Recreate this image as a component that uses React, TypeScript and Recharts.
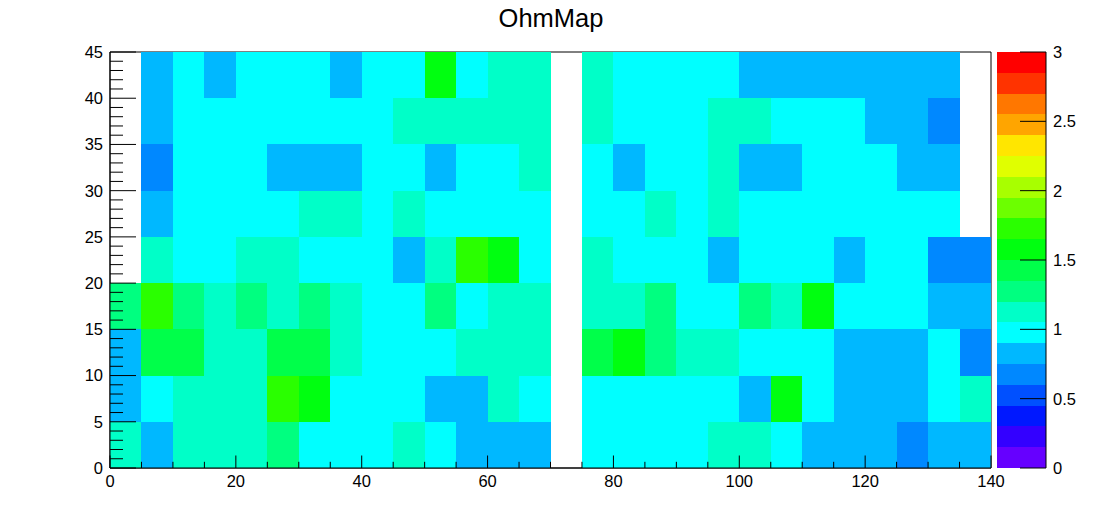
import type {ReactElement} from 'react';
import {ComposedChart, XAxis, YAxis, ReferenceArea} from 'recharts';

const FONT = '"Liberation Sans", Arial, Helvetica, sans-serif';

// histogram bin edges
const xBinEdges = [0, 5, 10, 15, 20, 25, 30, 35, 40, 45, 50, 55, 60, 65, 70, 75, 80, 85, 90, 95, 100, 105, 110, 115, 120, 125, 130, 135, 140];
const yBinEdges = [0, 5, 10, 15, 20, 25, 30, 35, 40, 45];

// bin contents, one array per y row (bottom row first); null = empty bin
const ohmRowY0 = [1.12, 0.82, 1.12, 1.12, 1.12, 1.28, 0.97, 0.97, 0.97, 1.12, 0.97, 0.82, 0.82, 0.82, null, 0.97, 0.97, 0.97, 0.97, 1.12, 1.12, 0.97, 0.82, 0.82, 0.82, 0.68, 0.82, 0.82];
const ohmRowY5 = [0.82, 0.97, 1.12, 1.12, 1.12, 1.72, 1.57, 0.97, 0.97, 0.97, 0.82, 0.82, 1.12, 0.97, null, 0.97, 0.97, 0.97, 0.97, 0.97, 0.82, 1.57, 0.97, 0.82, 0.82, 0.82, 0.97, 1.12];
const ohmRowY10 = [0.82, 1.42, 1.42, 1.12, 1.12, 1.42, 1.42, 1.12, 0.97, 0.97, 0.97, 1.12, 1.12, 1.12, null, 1.42, 1.57, 1.28, 1.12, 1.12, 0.97, 0.97, 0.97, 0.82, 0.82, 0.82, 0.97, 0.68];
const ohmRowY15 = [1.28, 1.72, 1.28, 1.12, 1.28, 1.12, 1.28, 1.12, 0.97, 0.97, 1.28, 0.97, 1.12, 1.12, null, 1.12, 1.12, 1.28, 0.97, 0.97, 1.28, 1.12, 1.57, 0.97, 0.97, 0.97, 0.82, 0.82];
const ohmRowY20 = [null, 1.12, 0.97, 0.97, 1.12, 1.12, 0.97, 0.97, 0.97, 0.82, 1.12, 1.72, 1.57, 0.97, null, 1.12, 0.97, 0.97, 0.97, 0.82, 0.97, 0.97, 0.97, 0.82, 0.97, 0.97, 0.68, 0.68];
const ohmRowY25 = [null, 0.82, 0.97, 0.97, 0.97, 0.97, 1.12, 1.12, 0.97, 1.12, 0.97, 0.97, 0.97, 0.97, null, 0.97, 0.97, 1.12, 0.97, 1.12, 0.97, 0.97, 0.97, 0.97, 0.97, 0.97, 0.97, null];
const ohmRowY30 = [null, 0.68, 0.97, 0.97, 0.97, 0.82, 0.82, 0.82, 0.97, 0.97, 0.82, 0.97, 0.97, 1.12, null, 0.97, 0.82, 0.97, 0.97, 1.12, 0.82, 0.82, 0.97, 0.97, 0.97, 0.82, 0.82, null];
const ohmRowY35 = [null, 0.82, 0.97, 0.97, 0.97, 0.97, 0.97, 0.97, 0.97, 1.12, 1.12, 1.12, 1.12, 1.12, null, 1.12, 0.97, 0.97, 0.97, 1.12, 1.12, 0.97, 0.97, 0.97, 0.82, 0.82, 0.68, null];
const ohmRowY40 = [null, 0.82, 0.97, 0.82, 0.97, 0.97, 0.97, 0.82, 0.97, 0.97, 1.57, 0.97, 1.12, 1.12, null, 1.12, 0.97, 0.97, 0.97, 0.97, 0.82, 0.82, 0.82, 0.82, 0.82, 0.82, 0.82, null];

const ohmRows = [ohmRowY0, ohmRowY5, ohmRowY10, ohmRowY15, ohmRowY20, ohmRowY25, ohmRowY30, ohmRowY35, ohmRowY40];

// 20 contour colours, lowest first
const paletteColors = [
	'#6600ff', '#3300ff', '#0018ff', '#0050ff', '#0088ff',
	'#00b8ff', '#00ffff', '#00ffc8', '#00ff80', '#00ff4a',
	'#00ff10', '#2aff00', '#6cff00', '#a8ff00', '#e0ff00',
	'#ffe600', '#ffa500', '#ff7700', '#ff3300', '#ff0000'
];
const zMin = 0;
const zMax = 3;

const xTicks = xBinEdges;
const yTicks = Array.from({length: 46}, (_, i) => i);
const zTicks = [0, 0.5, 1, 1.5, 2, 2.5, 3];

function colorFor(v: number): string {
	const step = (zMax - zMin) / paletteColors.length;
	const idx = Math.min(paletteColors.length - 1, Math.max(0, Math.floor((v - zMin) / step)));
	return paletteColors[idx];
}

type TCell = {x1: number; x2: number; y1: number; y2: number; value: number};

const cells: TCell[] = [];
ohmRows.forEach((row, j) => {
	row.forEach((value, i) => {
		if (value === null) {
			return;
		}
		cells.push({x1: xBinEdges[i], x2: xBinEdges[i + 1], y1: yBinEdges[j], y2: yBinEdges[j + 1], value});
	});
});

const labelStyle = {fontFamily: FONT, fontSize: 16.5, fill: '#000'};

function LeftTick(props: any): ReactElement {
	const {x, y, payload} = props;
	const major = payload.value % 5 === 0;
	return (
		<g>
			<line x1={x} x2={x + (major ? 26 : 13)} y1={y} y2={y} stroke={'#000'} strokeWidth={1} />
			{major && (
				<text x={x - 7} y={y} dy={'0.36em'} textAnchor={'end'} {...labelStyle}>
					{payload.value}
				</text>
			)}
		</g>
	);
}

function BottomTick(props: any): ReactElement {
	const {x, y, payload} = props;
	const major = payload.value % 20 === 0;
	return (
		<g>
			<line x1={x} x2={x} y1={y} y2={y - (major ? 12.5 : 6.2)} stroke={'#000'} strokeWidth={1} />
			{major && (
				<text x={x} y={y + 19} textAnchor={'middle'} {...labelStyle}>
					{payload.value}
				</text>
			)}
		</g>
	);
}

function PaletteTick(props: any): ReactElement {
	const {x, y, payload} = props;
	return (
		<g>
			<line x1={x - 26} x2={x} y1={y} y2={y} stroke={'#000'} strokeWidth={1} />
			<text x={x + 7} y={y} dy={'0.36em'} textAnchor={'start'} {...labelStyle}>
				{payload.value}
			</text>
		</g>
	);
}

function OhmMap(): ReactElement {
	return (
		<div style={{position: 'absolute', left: 0, top: 0, width: 1102, height: 522, background: '#fff'}}>
			<svg width={1102} height={40} style={{position: 'absolute', left: 0, top: 0}}>
				<text x={551} y={26.5} textAnchor={'middle'} fontFamily={FONT} fontSize={25.5} fill={'#000'}>
					{'OhmMap'}
				</text>
			</svg>
			<div style={{position: 'absolute', left: 0, top: 0}}>
				<ComposedChart width={1102} height={522} data={cells} margin={{top: 52, right: 111, bottom: 24, left: 0}}>
					<ReferenceArea x1={0} x2={140} y1={0} y2={45} fill={'none'} stroke={'#000'} strokeWidth={1} fillOpacity={0} />
					{cells.map((c, k) => (
						<ReferenceArea
							key={k}
							x1={c.x1}
							x2={c.x2}
							y1={c.y1}
							y2={c.y2}
							fill={colorFor(c.value)}
							fillOpacity={1}
							stroke={'none'}
							shapeRendering={'crispEdges'}
						/>
					))}
					<XAxis
						type={'number'}
						dataKey={'x1'}
						domain={[0, 140]}
						ticks={xTicks}
						interval={0}
						allowDataOverflow
						height={30}
						tickSize={0}
						tickMargin={0}
						tickLine={false}
						axisLine={{stroke: '#000'}}
						tick={<BottomTick />}
					/>
					<YAxis
						type={'number'}
						dataKey={'y1'}
						domain={[0, 45]}
						ticks={yTicks}
						interval={0}
						allowDataOverflow
						width={110}
						tickSize={0}
						tickMargin={0}
						tickLine={false}
						axisLine={{stroke: '#000'}}
						tick={<LeftTick />}
					/>
				</ComposedChart>
			</div>
			<div style={{position: 'absolute', left: 0, top: 0}}>
				<ComposedChart width={1102} height={522} data={paletteColors.map((c, i) => ({lo: i, color: c}))} margin={{top: 52, right: 16, bottom: 54, left: 997}}>
					{paletteColors.map((color, i) => {
						const step = (zMax - zMin) / paletteColors.length;
						return (
							<ReferenceArea
								key={color}
								x1={0}
								x2={1}
								y1={zMin + i * step}
								y2={zMin + (i + 1) * step}
								fill={color}
								fillOpacity={1}
								stroke={'none'}
								shapeRendering={'crispEdges'}
							/>
						);
					})}
					<XAxis type={'number'} dataKey={'lo'} domain={[0, 1]} hide allowDataOverflow />
					<YAxis
						yAxisId={0}
						orientation={'right'}
						type={'number'}
						domain={[zMin, zMax]}
						ticks={zTicks}
						interval={0}
						allowDataOverflow
						width={40}
						tickSize={0}
						tickMargin={0}
						tickLine={false}
						axisLine={{stroke: '#000'}}
						tick={<PaletteTick />}
					/>
				</ComposedChart>
			</div>
		</div>
	);
}

export default function App(): ReactElement {
	return <OhmMap />;
}
